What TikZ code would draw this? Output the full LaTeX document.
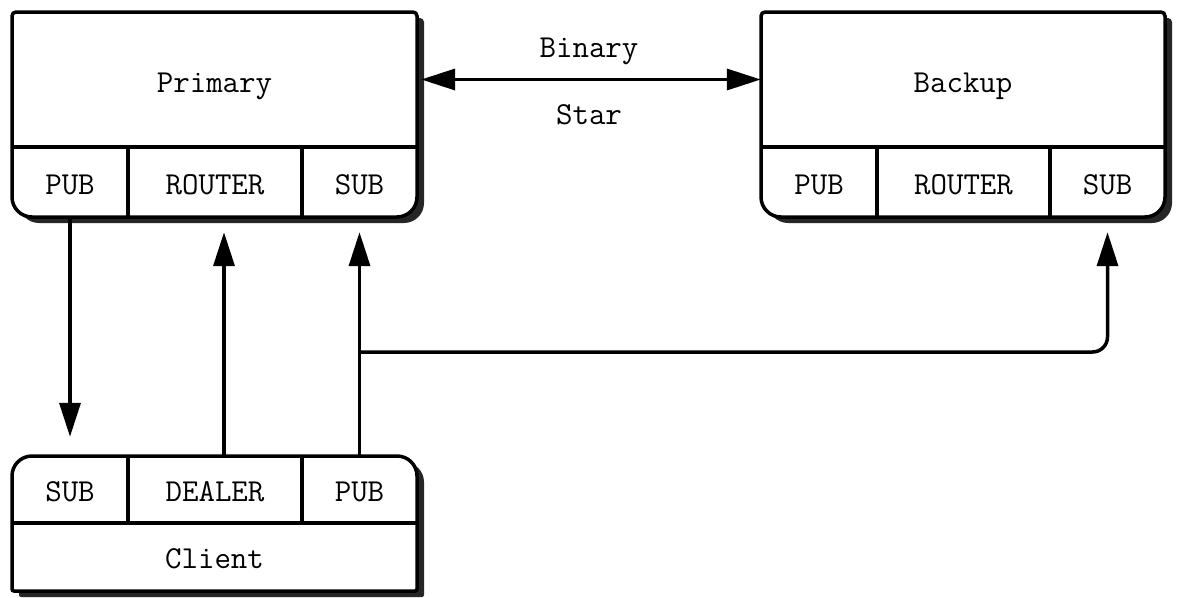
\documentclass[tikz,border=0pt]{standalone}
\usepackage{fontspec}
\usetikzlibrary{arrows.meta,calc}
\begin{document}
\begin{tikzpicture}[x=1pt,y=-1pt,
  lw/.style={line width=3.5pt},
  cell/.style={inner sep=0pt,text height=19.5pt,text depth=0pt,font=\fontsize{32}{36}\selectfont\ttfamily},
  shadowfill/.style={fill=black!85,draw=none},
  arr/.style={lw,-{Triangle[length=34pt,width=21pt]}},
  arrboth/.style={lw,{Triangle[length=34pt,width=21pt]}-{Triangle[length=34pt,width=21pt]}},
]
\useasboundingbox (0,0) rectangle (1180,597);
% ---------- Primary ----------
\begin{scope}[shift={(7,6)}]
\fill[shadowfill] (12,110) [rounded corners=4] -- (12,12) -- (417,12) -- (417,110) [rounded corners=20] -- (417,217) -- (12,217) -- (12,110) -- cycle;
\end{scope}
\filldraw[lw,fill=white] (12,110) [rounded corners=4] -- (12,12) -- (417,12) -- (417,110) [rounded corners=20] -- (417,217) -- (12,217) -- (12,110) -- cycle;
\node[cell,minimum width=405pt,minimum height=135pt] (pmain) at (214.5,79.5) {};
\node[cell,yshift=-3pt] (ptxt) at (pmain) {Primary};
\node[cell,minimum width=116pt,minimum height=70pt] (ppub) at (70,182) {};
\node[cell,minimum width=174pt,minimum height=70pt] (prouter) at (215,182) {};
\node[cell,minimum width=115pt,minimum height=70pt] (psub) at (359.5,182) {};
\node[cell,yshift=-2.5pt] at (ppub) {PUB};
\node[cell,yshift=-2.5pt] at (prouter) {ROUTER};
\node[cell,yshift=-2.5pt] at (psub) {SUB};
\draw[lw] (pmain.south west) -- (pmain.south east);
\draw[lw] (ppub.north east) -- (ppub.south east);
\draw[lw] (prouter.north east) -- (prouter.south east);
% ---------- Backup ----------
\begin{scope}[shift={(7,6)}]
\fill[shadowfill] (761,110) [rounded corners=4] -- (761,12) -- (1165,12) -- (1165,110) [rounded corners=20] -- (1165,217) -- (761,217) -- (761,110) -- cycle;
\end{scope}
\filldraw[lw,fill=white] (761,110) [rounded corners=4] -- (761,12) -- (1165,12) -- (1165,110) [rounded corners=20] -- (1165,217) -- (761,217) -- (761,110) -- cycle;
\node[cell,minimum width=404pt,minimum height=135pt] (bmain) at (963,79.5) {};
\node[cell,yshift=-3pt] (btxt) at (bmain) {Backup};
\node[cell,minimum width=116pt,minimum height=70pt] (bpub) at (819,182) {};
\node[cell,minimum width=173pt,minimum height=70pt] (brouter) at (963.5,182) {};
\node[cell,minimum width=115pt,minimum height=70pt] (bsub) at (1107.5,182) {};
\node[cell,yshift=-2.5pt] at (bpub) {PUB};
\node[cell,yshift=-2.5pt] at (brouter) {ROUTER};
\node[cell,yshift=-2.5pt] at (bsub) {SUB};
\draw[lw] (bmain.south west) -- (bmain.south east);
\draw[lw] (bpub.north east) -- (bpub.south east);
\draw[lw] (brouter.north east) -- (brouter.south east);
% ---------- Client ----------
\begin{scope}[shift={(7,6)}]
\fill[shadowfill] (12,530) [rounded corners=20] -- (12,456) -- (417,456) -- (417,530) [rounded corners=2] -- (417,591) -- (12,591) -- (12,530) -- cycle;
\end{scope}
\filldraw[lw,fill=white] (12,530) [rounded corners=20] -- (12,456) -- (417,456) -- (417,530) [rounded corners=2] -- (417,591) -- (12,591) -- (12,530) -- cycle;
\node[cell,minimum width=116pt,minimum height=67pt] (csub) at (70,489.5) {};
\node[cell,minimum width=174pt,minimum height=67pt] (cdealer) at (215,489.5) {};
\node[cell,minimum width=115pt,minimum height=67pt] (cpub) at (359.5,489.5) {};
\node[cell,minimum width=405pt,minimum height=68pt] (client) at (214.5,557) {};
\node[cell,yshift=-2pt] at (csub) {SUB};
\node[cell,yshift=-2pt] at (cdealer) {DEALER};
\node[cell,yshift=-2pt] at (cpub) {PUB};
\node[cell,yshift=-2pt] at (client) {Client};
\draw[lw] (client.north west) -- (client.north east);
\draw[lw] (csub.north east) -- (csub.south east);
\draw[lw] (cdealer.north east) -- (cdealer.south east);
% ---------- connectors ----------
\coordinate (rx) at (224,0);
\coordinate (junc) at (359.5,352);
\draw[arr,shorten >=19pt] (ppub.south) -- (csub.north);
\draw[arr,shorten >=15pt] (cdealer.north -| rx) -- (prouter.south -| rx);
\draw[arr,shorten >=15pt] (cpub.north) -- (psub.south);
\draw[arr,rounded corners=15pt,shorten >=15pt] (junc) -| (bsub.south);
\draw[arrboth,shorten <=4pt] (pmain.east) -- (bmain.west);
\node[cell] (lbin) at (589,47.5) {Binary};
\node[cell] (lstar) at (589,115) {Star};
\end{tikzpicture}
\end{document}
